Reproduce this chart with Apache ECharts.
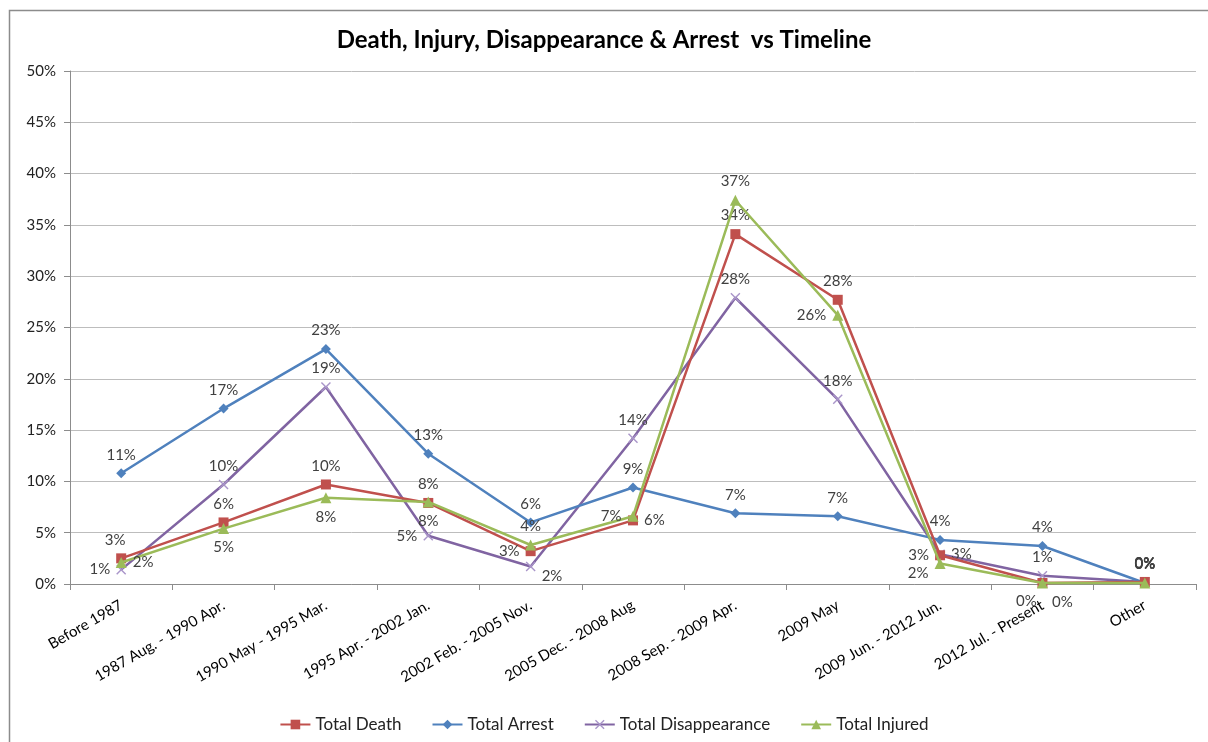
<!DOCTYPE html>
<html>
<head>
<meta charset="utf-8">
<script src="https://cdn.jsdelivr.net/npm/echarts@6/dist/echarts.min.js"></script>
<style>
  html, body { margin: 0; padding: 0; background: #fff; }
  #main { width: 1208px; height: 742px; }
</style>
</head>
<body>
<div id="main"></div>
<script>
// categories of the timeline
var periods = [
  "Before 1987", "1987 Aug. - 1990 Apr.", "1990 May - 1995 Mar.", "1995 Apr. - 2002 Jan.",
  "2002 Feb. - 2005 Nov.", "2005 Dec. - 2008 Aug", "2008 Sep. - 2009 Apr.", "2009 May",
  "2009 Jun. - 2012 Jun.", "2012 Jul. - Present", "Other"
];

// values in percent
var totalDeath         = [2.5, 6.0, 9.7, 7.9, 3.2, 6.2, 34.1, 27.7, 2.8, 0.1, 0.2];
var totalArrest        = [10.8, 17.1, 22.9, 12.7, 6.0, 9.4, 6.9, 6.6, 4.3, 3.7, 0.1];
var totalDisappearance = [1.4, 9.7, 19.2, 4.7, 1.7, 14.2, 27.9, 18.0, 2.9, 0.8, 0.2];
var totalInjured       = [2.1, 5.4, 8.4, 8.0, 3.8, 6.6, 37.4, 26.2, 2.0, 0.1, 0.1];

// y axis ticks
var yMin = 0, yMax = 50, yStep = 5;

// where each data label sits (Excel put them by hand)
var deathLabelPos  = ["top", "top", "top", "top", "left", "right", "top", "top", "left", "bottom", "top"];
var arrestLabelPos = ["top", "top", "top", "top", "top", "top", "top", "top", "top", "top", "top"];
var disapLabelPos  = ["left", "top", "top", "left", "right", "top", "top", "top", "right", "top", "top"];
var injuredLabelPos = ["right", "bottom", "bottom", "bottom", "top", "left", "top", "left", "left", "bottom", "top"];

var FONT = "Lato, 'Open Sans', sans-serif";

function withLabels(values, positions, extra) {
  return values.map(function (v, i) {
    var lbl = { position: positions[i] };
    if (extra && extra[i]) {
      for (var k in extra[i]) lbl[k] = extra[i][k];
    }
    return { value: v, label: lbl };
  });
}

var labelStyle = {
  show: true,
  color: "#404040",
  fontSize: 15,
  fontFamily: FONT,
  distance: 6,
  formatter: function (p) { return Math.round(p.value) + "%"; }
};

var chart = echarts.init(document.getElementById("main"));
chart.setOption({
  backgroundColor: "#fff",
  animation: false,
  title: {
    text: "Death, Injury, Disappearance & Arrest  vs Timeline",
    left: "center",
    top: 23,
    textStyle: { fontFamily: FONT, fontWeight: "bold", fontSize: 24, color: "#000" }
  },
  graphic: [{
    type: "rect",
    shape: { x: 9.5, y: 10.5, width: 1300, height: 800 },
    style: { fill: "none", stroke: "#8c8c8c", lineWidth: 1.5 },
    silent: true
  }],
  legend: {
    bottom: 4,
    left: "center",
    itemGap: 30,
    itemWidth: 30,
    itemHeight: 12,
    textStyle: { fontFamily: FONT, fontSize: 17, color: "#222" },
    data: ["Total Death", "Total Arrest", "Total Disappearance", "Total Injured"]
  },
  grid: { left: 70, right: 12, top: 71, bottom: 158 },
  xAxis: {
    type: "category",
    data: periods,
    boundaryGap: true,
    axisLine: { lineStyle: { color: "#8c8c8c" } },
    axisTick: { show: true, length: 6, lineStyle: { color: "#8c8c8c" } },
    axisLabel: {
      rotate: 30, interval: 0, margin: 20,
      fontFamily: FONT, fontSize: 15, color: "#000"
    }
  },
  yAxis: {
    type: "value",
    min: yMin, max: yMax, interval: yStep,
    axisLine: { show: true, lineStyle: { color: "#8c8c8c" } },
    axisTick: { show: true, length: 6, lineStyle: { color: "#8c8c8c" } },
    axisLabel: { formatter: "{value}%", fontFamily: FONT, fontSize: 15, color: "#222", margin: 14 },
    splitLine: { lineStyle: { color: "#bdbdbd", width: 1 } }
  },
  series: [
    {
      name: "Total Death",
      type: "line",
      z: 4,
      symbol: "rect",
      symbolSize: 10,
      color: "#C0504D",
      lineStyle: { width: 2.5 },
      label: labelStyle,
      data: withLabels(totalDeath, deathLabelPos, { 0: { offset: [-6, 0] }, 9: { offset: [-16, 0] } })
    },
    {
      name: "Total Arrest",
      type: "line",
      z: 3,
      symbol: "diamond",
      symbolSize: 10,
      color: "#4F81BD",
      lineStyle: { width: 2.5 },
      label: labelStyle,
      data: withLabels(totalArrest, arrestLabelPos)
    },
    {
      name: "Total Disappearance",
      type: "line",
      z: 2,
      symbol: "path://M0,1L1,0L5,4L9,0L10,1L6,5L10,9L9,10L5,6L1,10L0,9L4,5Z",
      symbolSize: 10,
      color: "#8064A2",
      itemStyle: { color: "#a995c9" },
      lineStyle: { width: 2.5, color: "#8064A2" },
      label: labelStyle,
      data: withLabels(totalDisappearance, disapLabelPos, { 4: { offset: [0, 10] } })
    },
    {
      name: "Total Injured",
      type: "line",
      z: 5,
      symbol: "triangle",
      symbolSize: 11,
      color: "#9BBB59",
      lineStyle: { width: 2.5 },
      label: labelStyle,
      data: withLabels(totalInjured, injuredLabelPos, { 8: { offset: [0, 10] }, 9: { offset: [20, 0] } })
    }
  ]
});
</script>
</body>
</html>
